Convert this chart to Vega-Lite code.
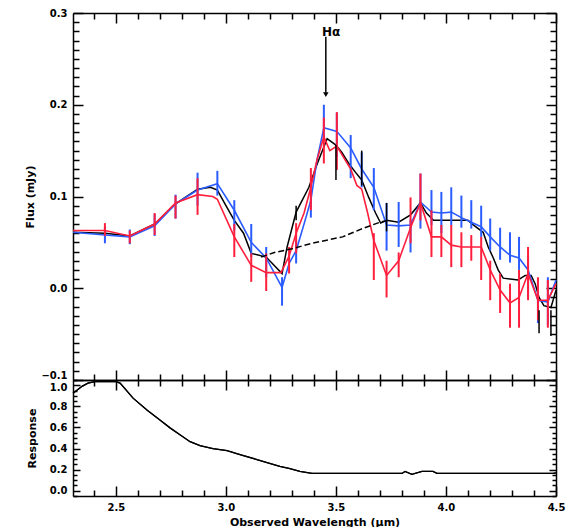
{
  "$schema": "https://vega.github.io/schema/vega-lite/v6.json",
  "background": "white",
  "padding": {"left": 24, "top": 8, "right": 5, "bottom": 0},
  "spacing": 0,
  "bounds": "flush",
  "config": {
    "view": {"stroke": null},
    "axis": {
      "domainColor": "black", "domainWidth": 1.5, "tickColor": "black", "tickWidth": 1.5, "tickCap": "butt",
      "labelFont": "DejaVu Sans", "labelFontWeight": "bold", "labelFontSize": 10, "labelColor": "black",
      "titleFont": "DejaVu Sans", "titleFontWeight": "bold", "titleFontSize": 11, "titleColor": "black",
      "grid": false, "labelOverlap": false, "labelFlush": false, "labelBound": false
    }
  },
  "datasets": {
    "blue": [
      {"x": 2.305, "y": 0.061},
      {"x": 2.45, "y": 0.058, "lo": 0.049, "hi": 0.067},
      {"x": 2.563, "y": 0.056, "lo": 0.048, "hi": 0.064},
      {"x": 2.676, "y": 0.068, "lo": 0.057, "hi": 0.081},
      {"x": 2.771, "y": 0.092, "lo": 0.076, "hi": 0.102},
      {"x": 2.871, "y": 0.107, "lo": 0.09, "hi": 0.126},
      {"x": 2.961, "y": 0.114, "lo": 0.101, "hi": 0.128},
      {"x": 3.038, "y": 0.085, "lo": 0.063, "hi": 0.096},
      {"x": 3.115, "y": 0.05, "lo": 0.034, "hi": 0.07},
      {"x": 3.183, "y": 0.033, "lo": 0.012, "hi": 0.045},
      {"x": 3.255, "y": 0.001, "lo": -0.019, "hi": 0.012},
      {"x": 3.287, "y": 0.027},
      {"x": 3.319, "y": 0.041, "lo": 0.027, "hi": 0.052},
      {"x": 3.355, "y": 0.07},
      {"x": 3.386, "y": 0.096, "lo": 0.077, "hi": 0.107},
      {"x": 3.414, "y": 0.14},
      {"x": 3.445, "y": 0.175, "lo": 0.161, "hi": 0.2},
      {"x": 3.504, "y": 0.171, "lo": 0.143, "hi": 0.191},
      {"x": 3.567, "y": 0.153, "lo": 0.12, "hi": 0.167},
      {"x": 3.617, "y": 0.13, "lo": 0.11, "hi": 0.148},
      {"x": 3.672, "y": 0.11, "lo": 0.085, "hi": 0.131},
      {"x": 3.73, "y": 0.069, "lo": 0.041, "hi": 0.093},
      {"x": 3.785, "y": 0.068, "lo": 0.045, "hi": 0.094},
      {"x": 3.839, "y": 0.069, "lo": 0.039, "hi": 0.075},
      {"x": 3.884, "y": 0.094, "lo": 0.065, "hi": 0.125},
      {"x": 3.934, "y": 0.083, "lo": 0.069, "hi": 0.107},
      {"x": 3.979, "y": 0.082, "lo": 0.06, "hi": 0.105},
      {"x": 4.024, "y": 0.083, "lo": 0.069, "hi": 0.11},
      {"x": 4.07, "y": 0.077, "lo": 0.066, "hi": 0.101},
      {"x": 4.115, "y": 0.072, "lo": 0.065, "hi": 0.096},
      {"x": 4.16, "y": 0.067, "lo": 0.056, "hi": 0.09},
      {"x": 4.201, "y": 0.056, "lo": 0.041, "hi": 0.076},
      {"x": 4.246, "y": 0.045, "lo": 0.031, "hi": 0.066},
      {"x": 4.291, "y": 0.036, "lo": 0.028, "hi": 0.061},
      {"x": 4.332, "y": 0.033, "lo": 0.02, "hi": 0.056},
      {"x": 4.373, "y": 0.02, "lo": -0.01, "hi": 0.036},
      {"x": 4.418, "y": -0.013, "lo": -0.038, "hi": 0.009},
      {"x": 4.463, "y": -0.015, "lo": -0.04, "hi": 0.012},
      {"x": 4.5, "y": 0.009}
    ],
    "red": [
      {"x": 2.305, "y": 0.063},
      {"x": 2.45, "y": 0.063, "lo": 0.057, "hi": 0.071},
      {"x": 2.563, "y": 0.057, "lo": 0.049, "hi": 0.063},
      {"x": 2.676, "y": 0.07, "lo": 0.058, "hi": 0.082},
      {"x": 2.771, "y": 0.093, "lo": 0.076, "hi": 0.101},
      {"x": 2.871, "y": 0.102, "lo": 0.08, "hi": 0.12},
      {"x": 2.94, "y": 0.1},
      {"x": 2.961, "y": 0.097},
      {"x": 3.038, "y": 0.056, "lo": 0.034, "hi": 0.07},
      {"x": 3.115, "y": 0.025, "lo": 0.007, "hi": 0.038},
      {"x": 3.183, "y": 0.017, "lo": -0.003, "hi": 0.038},
      {"x": 3.25, "y": 0.017},
      {"x": 3.287, "y": 0.035, "lo": 0.016, "hi": 0.045},
      {"x": 3.319, "y": 0.06, "lo": 0.038, "hi": 0.071},
      {"x": 3.355, "y": 0.082},
      {"x": 3.386, "y": 0.11, "lo": 0.085, "hi": 0.131},
      {"x": 3.414, "y": 0.14},
      {"x": 3.445, "y": 0.165, "lo": 0.136, "hi": 0.186},
      {"x": 3.472, "y": 0.15},
      {"x": 3.504, "y": 0.155, "lo": 0.129, "hi": 0.192},
      {"x": 3.536, "y": 0.142},
      {"x": 3.567, "y": 0.13},
      {"x": 3.595, "y": 0.112},
      {"x": 3.617, "y": 0.108},
      {"x": 3.644, "y": 0.082},
      {"x": 3.672, "y": 0.052, "lo": 0.009, "hi": 0.06},
      {"x": 3.73, "y": 0.014, "lo": -0.01, "hi": 0.03},
      {"x": 3.785, "y": 0.03, "lo": 0.012, "hi": 0.039},
      {"x": 3.839, "y": 0.066, "lo": 0.049, "hi": 0.099},
      {"x": 3.884, "y": 0.093, "lo": 0.074, "hi": 0.125},
      {"x": 3.934, "y": 0.056, "lo": 0.034, "hi": 0.085},
      {"x": 3.979, "y": 0.056, "lo": 0.034, "hi": 0.069},
      {"x": 4.024, "y": 0.047, "lo": 0.023, "hi": 0.069},
      {"x": 4.07, "y": 0.045, "lo": 0.023, "hi": 0.061},
      {"x": 4.115, "y": 0.045, "lo": 0.03, "hi": 0.058},
      {"x": 4.16, "y": 0.045, "lo": 0.009, "hi": 0.056},
      {"x": 4.201, "y": 0.02, "lo": -0.013, "hi": 0.03},
      {"x": 4.246, "y": -0.002, "lo": -0.027, "hi": 0.016},
      {"x": 4.291, "y": -0.016, "lo": -0.043, "hi": 0.005},
      {"x": 4.332, "y": -0.01, "lo": -0.043, "hi": 0.02},
      {"x": 4.373, "y": 0.016, "lo": -0.013, "hi": 0.045},
      {"x": 4.418, "y": -0.013, "lo": -0.035, "hi": 0.012},
      {"x": 4.463, "y": -0.013, "lo": -0.043, "hi": 0.009},
      {"x": 4.5, "y": 0.005}
    ],
    "black": [
      {"x": 2.305, "y": 0.061}, {"x": 2.45, "y": 0.06}, {"x": 2.563, "y": 0.057}, {"x": 2.676, "y": 0.07},
      {"x": 2.771, "y": 0.092}, {"x": 2.871, "y": 0.108}, {"x": 2.93, "y": 0.11}, {"x": 2.961, "y": 0.107},
      {"x": 3.0, "y": 0.09}, {"x": 3.038, "y": 0.074}, {"x": 3.08, "y": 0.06}, {"x": 3.115, "y": 0.038},
      {"x": 3.183, "y": 0.034}, {"x": 3.255, "y": 0.016}, {"x": 3.278, "y": 0.045},
      {"x": 3.319, "y": 0.083, "lo": 0.074, "hi": 0.09}, {"x": 3.377, "y": 0.11}, {"x": 3.409, "y": 0.132},
      {"x": 3.43, "y": 0.145}, {"x": 3.46, "y": 0.163}, {"x": 3.5, "y": 0.156, "lo": 0.118, "hi": 0.156},
      {"x": 3.527, "y": 0.148}, {"x": 3.558, "y": 0.136}, {"x": 3.59, "y": 0.126},
      {"x": 3.617, "y": 0.118, "lo": 0.112, "hi": 0.15}, {"x": 3.649, "y": 0.099}, {"x": 3.68, "y": 0.082},
      {"x": 3.703, "y": 0.071}, {"x": 3.73, "y": 0.074, "lo": 0.062, "hi": 0.093}, {"x": 3.785, "y": 0.072},
      {"x": 3.839, "y": 0.08}, {"x": 3.884, "y": 0.093}, {"x": 3.911, "y": 0.082}, {"x": 3.943, "y": 0.074},
      {"x": 4.024, "y": 0.074}, {"x": 4.1, "y": 0.074}, {"x": 4.124, "y": 0.069}, {"x": 4.169, "y": 0.061},
      {"x": 4.192, "y": 0.045}, {"x": 4.215, "y": 0.033}, {"x": 4.237, "y": 0.02}, {"x": 4.26, "y": 0.011},
      {"x": 4.328, "y": 0.009}, {"x": 4.36, "y": 0.014}, {"x": 4.387, "y": 0.014}, {"x": 4.405, "y": 0.005},
      {"x": 4.423, "y": -0.01, "lo": -0.049, "hi": -0.024}, {"x": 4.445, "y": -0.019},
      {"x": 4.477, "y": -0.021, "lo": -0.052, "hi": -0.024}, {"x": 4.5, "y": -0.002}
    ],
    "cont": [
      {"x": 3.16, "y": 0.034}, {"x": 3.22, "y": 0.039}, {"x": 3.3, "y": 0.043}, {"x": 3.39, "y": 0.049},
      {"x": 3.53, "y": 0.056}, {"x": 3.62, "y": 0.065}, {"x": 3.7, "y": 0.072}, {"x": 3.74, "y": 0.074}
    ],
    "arrow": [{"x": 3.454, "y": 0.274, "y2": 0.213}],
    "head": [{"x": 3.454, "y": 0.211}],
    "label": [{"x": 3.478, "y": 0.279, "t": "Hα"}],
    "resp": [
      {"x": 2.305, "r": 0.925}, {"x": 2.323, "r": 0.953}, {"x": 2.346, "r": 0.99}, {"x": 2.373, "r": 1.02},
      {"x": 2.405, "r": 1.035}, {"x": 2.5, "r": 1.035}, {"x": 2.519, "r": 1.02}, {"x": 2.578, "r": 0.878},
      {"x": 2.641, "r": 0.765}, {"x": 2.7, "r": 0.671}, {"x": 2.746, "r": 0.596}, {"x": 2.791, "r": 0.53},
      {"x": 2.837, "r": 0.465}, {"x": 2.882, "r": 0.427}, {"x": 2.941, "r": 0.4}, {"x": 3.005, "r": 0.38},
      {"x": 3.064, "r": 0.343}, {"x": 3.141, "r": 0.296}, {"x": 3.214, "r": 0.249}, {"x": 3.245, "r": 0.23},
      {"x": 3.291, "r": 0.21}, {"x": 3.336, "r": 0.183}, {"x": 3.391, "r": 0.164}, {"x": 3.8, "r": 0.164},
      {"x": 3.814, "r": 0.183}, {"x": 3.845, "r": 0.155}, {"x": 3.891, "r": 0.183}, {"x": 3.941, "r": 0.183},
      {"x": 3.959, "r": 0.164}, {"x": 4.487, "r": 0.164}, {"x": 4.5, "r": 0.17}
    ]
  },
  "vconcat": [
    {
      "width": 483,
      "height": 367,
      "encoding": {
        "x": {"field": "x", "type": "quantitative", "scale": {"domain": [2.305, 4.5], "nice": false, "zero": false}, "axis": null},
        "y": {"field": "y", "type": "quantitative", "scale": {"domain": [-0.1, 0.3], "nice": false, "zero": false}, "axis": null}
      },
      "layer": [
        {
          "mark": {"type": "rule", "color": "black", "strokeWidth": 1.5, "strokeDash": [14, 4, 3, 4]},
          "encoding": {"x": null, "y": {"datum": 0, "type": "quantitative", "scale": {"domain": [-0.1, 0.3], "nice": false, "zero": false}, "axis": null}}
        },
        {
          "data": {"name": "black"},
          "mark": {"type": "line", "color": "black", "strokeWidth": 1.5},
          "encoding": {
            "x": {"field": "x", "type": "quantitative", "scale": {"domain": [2.305, 4.5], "nice": false, "zero": false},
              "axis": {"orient": "bottom", "labels": false, "title": null, "tickSize": -10,
                "values": [2.4, 2.5, 2.6, 2.7, 2.8, 2.9, 3.0, 3.1, 3.2, 3.3, 3.4, 3.5, 3.6, 3.7, 3.8, 3.9, 4.0, 4.1, 4.2, 4.3, 4.4, 4.5],
                "tickDash": {"condition": {"test": "abs(datum.value*2 - round(datum.value*2)) < 0.01", "value": [20, 0]}, "value": [6, 30]}}},
            "y": {"field": "y", "type": "quantitative", "scale": {"domain": [-0.1, 0.3], "nice": false, "zero": false},
              "axis": {"orient": "left", "title": "Flux (mJy)", "titlePadding": 5, "labelPadding": 16, "tickSize": -10,
                "values": [-0.1, -0.09, -0.08, -0.07, -0.06, -0.05, -0.04, -0.03, -0.02, -0.01, 0, 0.01, 0.02, 0.03, 0.04, 0.05, 0.06, 0.07, 0.08, 0.09, 0.1, 0.11, 0.12, 0.13, 0.14, 0.15, 0.16, 0.17, 0.18, 0.19, 0.2, 0.21, 0.22, 0.23, 0.24, 0.25, 0.26, 0.27, 0.28, 0.29, 0.3],
                "labelExpr": "abs(datum.value*10 - round(datum.value*10)) < 0.01 ? format(datum.value, '.1f') : ''",
                "labelBaseline": {"condition": {"test": "datum.value < -0.095", "value": "bottom"}, "value": "middle"},
                "tickDash": {"condition": {"test": "abs(datum.value*10 - round(datum.value*10)) < 0.01", "value": [20, 0]}, "value": [6, 30]}}}
          }
        },
        {
          "data": {"name": "blue"},
          "transform": [{"filter": "datum.lo != null"}],
          "mark": {"type": "rule", "color": "#2b5cff", "strokeWidth": 2},
          "encoding": {"y": {"field": "lo", "type": "quantitative", "scale": {"domain": [-0.1, 0.3], "nice": false, "zero": false}, "axis": null}, "y2": {"field": "hi"}}
        },
        {
          "data": {"name": "blue"},
          "mark": {"type": "line", "color": "#2b5cff", "strokeWidth": 1.6},
          "encoding": {
            "x": {"field": "x", "type": "quantitative", "scale": {"domain": [2.305, 4.5], "nice": false, "zero": false},
              "axis": {"orient": "top", "labels": false, "title": null, "tickSize": -10,
                "values": [2.4, 2.5, 2.6, 2.7, 2.8, 2.9, 3.0, 3.1, 3.2, 3.3, 3.4, 3.5, 3.6, 3.7, 3.8, 3.9, 4.0, 4.1, 4.2, 4.3, 4.4, 4.5],
                "tickDash": {"condition": {"test": "abs(datum.value*2 - round(datum.value*2)) < 0.01", "value": [20, 0]}, "value": [6, 30]}}},
            "y": {"field": "y", "type": "quantitative", "scale": {"domain": [-0.1, 0.3], "nice": false, "zero": false},
              "axis": {"orient": "right", "labels": false, "title": null, "tickSize": -10,
                "values": [-0.1, -0.09, -0.08, -0.07, -0.06, -0.05, -0.04, -0.03, -0.02, -0.01, 0, 0.01, 0.02, 0.03, 0.04, 0.05, 0.06, 0.07, 0.08, 0.09, 0.1, 0.11, 0.12, 0.13, 0.14, 0.15, 0.16, 0.17, 0.18, 0.19, 0.2, 0.21, 0.22, 0.23, 0.24, 0.25, 0.26, 0.27, 0.28, 0.29, 0.3],
                "tickDash": {"condition": {"test": "abs(datum.value*10 - round(datum.value*10)) < 0.01", "value": [20, 0]}, "value": [6, 30]}}}
          }
        },
        {
          "data": {"name": "red"},
          "transform": [{"filter": "datum.lo != null"}],
          "mark": {"type": "rule", "color": "#ff1f3d", "strokeWidth": 2},
          "encoding": {"y": {"field": "lo", "type": "quantitative", "scale": {"domain": [-0.1, 0.3], "nice": false, "zero": false}, "axis": null}, "y2": {"field": "hi"}}
        },
        {
          "data": {"name": "red"},
          "mark": {"type": "line", "color": "#ff1f3d", "strokeWidth": 1.6}
        },
        {
          "data": {"name": "black"},
          "transform": [{"filter": "datum.lo != null"}],
          "mark": {"type": "rule", "color": "black", "strokeWidth": 1.5},
          "encoding": {"y": {"field": "lo", "type": "quantitative", "scale": {"domain": [-0.1, 0.3], "nice": false, "zero": false}, "axis": null}, "y2": {"field": "hi"}}
        },
        {
          "data": {"name": "cont"},
          "mark": {"type": "line", "color": "black", "strokeWidth": 1.5, "strokeDash": [6, 3]}
        },
        {
          "data": {"name": "arrow"},
          "mark": {"type": "rule", "color": "black", "strokeWidth": 1.5},
          "encoding": {"y2": {"field": "y2"}}
        },
        {
          "data": {"name": "head"},
          "mark": {"type": "point", "shape": "triangle-down", "filled": true, "color": "black", "size": 30, "opacity": 1}
        },
        {
          "data": {"name": "label"},
          "mark": {"type": "text", "font": "DejaVu Sans", "fontWeight": "bold", "fontSize": 12, "color": "black", "align": "center", "baseline": "middle"},
          "encoding": {"text": {"field": "t"}}
        }
      ],
      "resolve": {"axis": {"x": "independent", "y": "independent"}}
    },
    {
      "width": 483,
      "height": 116,
      "data": {"name": "resp"},
      "layer": [
        {
          "mark": {"type": "line", "color": "black", "strokeWidth": 1.3},
          "encoding": {
            "x": {"field": "x", "type": "quantitative", "scale": {"domain": [2.305, 4.5], "nice": false, "zero": false},
              "axis": {"orient": "bottom", "title": "Observed Wavelength (μm)", "titlePadding": 4, "labelPadding": 16, "tickSize": -10,
                "values": [2.4, 2.5, 2.6, 2.7, 2.8, 2.9, 3.0, 3.1, 3.2, 3.3, 3.4, 3.5, 3.6, 3.7, 3.8, 3.9, 4.0, 4.1, 4.2, 4.3, 4.4, 4.5],
                "labelExpr": "abs(datum.value*2 - round(datum.value*2)) < 0.01 ? format(datum.value, '.1f') : ''",
                "tickDash": {"condition": {"test": "abs(datum.value*2 - round(datum.value*2)) < 0.01", "value": [20, 0]}, "value": [6, 30]}}},
            "y": {"field": "r", "type": "quantitative", "scale": {"domain": [-0.05, 1.05], "nice": false, "zero": false},
              "axis": {"orient": "left", "title": "Response", "titlePadding": 12, "labelPadding": 13, "tickSize": -7,
                "values": [-0.05, 0, 0.05, 0.1, 0.15, 0.2, 0.25, 0.3, 0.35, 0.4, 0.45, 0.5, 0.55, 0.6, 0.65, 0.7, 0.75, 0.8, 0.85, 0.9, 0.95, 1.0, 1.05],
                "labelExpr": "abs(datum.value*5 - round(datum.value*5)) < 0.01 && datum.value > -0.01 && datum.value < 1.01 ? format(datum.value, '.1f') : ''",
                "labelOffset": {"condition": {"test": "datum.value > 0.99", "value": 2}, "value": 0},
                "tickDash": {"condition": {"test": "abs(datum.value*5 - round(datum.value*5)) < 0.01", "value": [20, 0]}, "value": [4, 30]}}}
          }
        },
        {
          "mark": {"type": "line", "color": "black", "strokeWidth": 1.3},
          "encoding": {
            "x": {"field": "x", "type": "quantitative", "scale": {"domain": [2.305, 4.5], "nice": false, "zero": false},
              "axis": {"orient": "top", "labels": false, "title": null, "tickSize": -10,
                "values": [2.4, 2.5, 2.6, 2.7, 2.8, 2.9, 3.0, 3.1, 3.2, 3.3, 3.4, 3.5, 3.6, 3.7, 3.8, 3.9, 4.0, 4.1, 4.2, 4.3, 4.4, 4.5],
                "tickDash": {"condition": {"test": "abs(datum.value*2 - round(datum.value*2)) < 0.01", "value": [20, 0]}, "value": [6, 30]}}},
            "y": {"field": "r", "type": "quantitative", "scale": {"domain": [-0.05, 1.05], "nice": false, "zero": false},
              "axis": {"orient": "right", "labels": false, "title": null, "tickSize": -7,
                "values": [-0.05, 0, 0.05, 0.1, 0.15, 0.2, 0.25, 0.3, 0.35, 0.4, 0.45, 0.5, 0.55, 0.6, 0.65, 0.7, 0.75, 0.8, 0.85, 0.9, 0.95, 1.0, 1.05],
                "tickDash": {"condition": {"test": "abs(datum.value*5 - round(datum.value*5)) < 0.01", "value": [20, 0]}, "value": [4, 30]}}}
          }
        }
      ],
      "resolve": {"axis": {"x": "independent", "y": "independent"}}
    }
  ]
}
